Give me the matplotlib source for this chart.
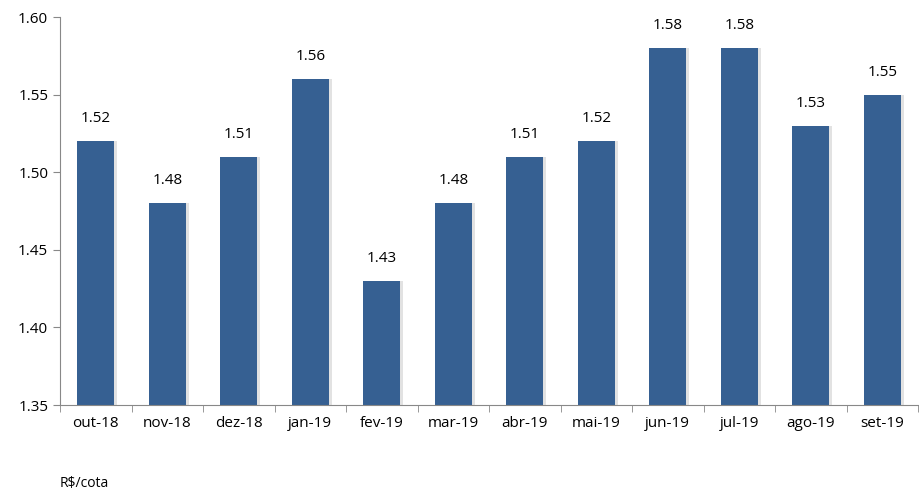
import matplotlib
matplotlib.use("Agg")
import matplotlib.pyplot as plt
import numpy as np

categories = ["out-18","nov-18","dez-18","jan-19","fev-19","mar-19","abr-19","mai-19","jun-19","jul-19","ago-19","set-19"]
values = [1.52,1.48,1.51,1.56,1.43,1.48,1.51,1.52,1.58,1.58,1.53,1.55]
yticks = [1.35,1.40,1.45,1.50,1.55,1.60]

plt.rcParams['font.family'] = ['Open Sans', 'DejaVu Sans']
fig = plt.figure(figsize=(9.19,4.90), dpi=100)
ax = fig.add_axes([60/919, 1-405/490, 858/919, 388/490])
x = np.arange(len(categories))
w = 0.52
ax.bar(x+0.04, np.array(values)-1.35, bottom=1.35, width=w, color="#d0d0d0", zorder=1, alpha=0.6)
ax.bar(x, np.array(values)-1.35, bottom=1.35, width=w, color="#366092", zorder=2)
for xi, v in zip(x, values):
    ax.text(xi, v+0.0145, f"{v:.2f}", ha="center", va="center", fontsize=11)
ax.set_xlim(-0.5, len(categories)-0.5)
ax.set_ylim(1.35, 1.60)
ax.set_yticks(yticks)
ax.set_yticklabels([f"{t:.2f}" for t in yticks], fontsize=11)
ax.set_xticks(x)
ax.set_xticklabels(categories, fontsize=11)
ax.tick_params(axis='x', length=0, pad=8)
ax.set_xticks(np.arange(-0.5, len(categories)), minor=True)
ax.tick_params(axis='x', which='minor', length=5, color="#888888")
ax.tick_params(axis='y', length=5, color="#888888")
for s in ["top","right"]:
    ax.spines[s].set_visible(False)
for s in ["left","bottom"]:
    ax.spines[s].set_color("#888888")
fig.text(60/919, 1-483/490, "R$/cota", fontsize=10, va="center")
fig.savefig("out.png", dpi=100)
